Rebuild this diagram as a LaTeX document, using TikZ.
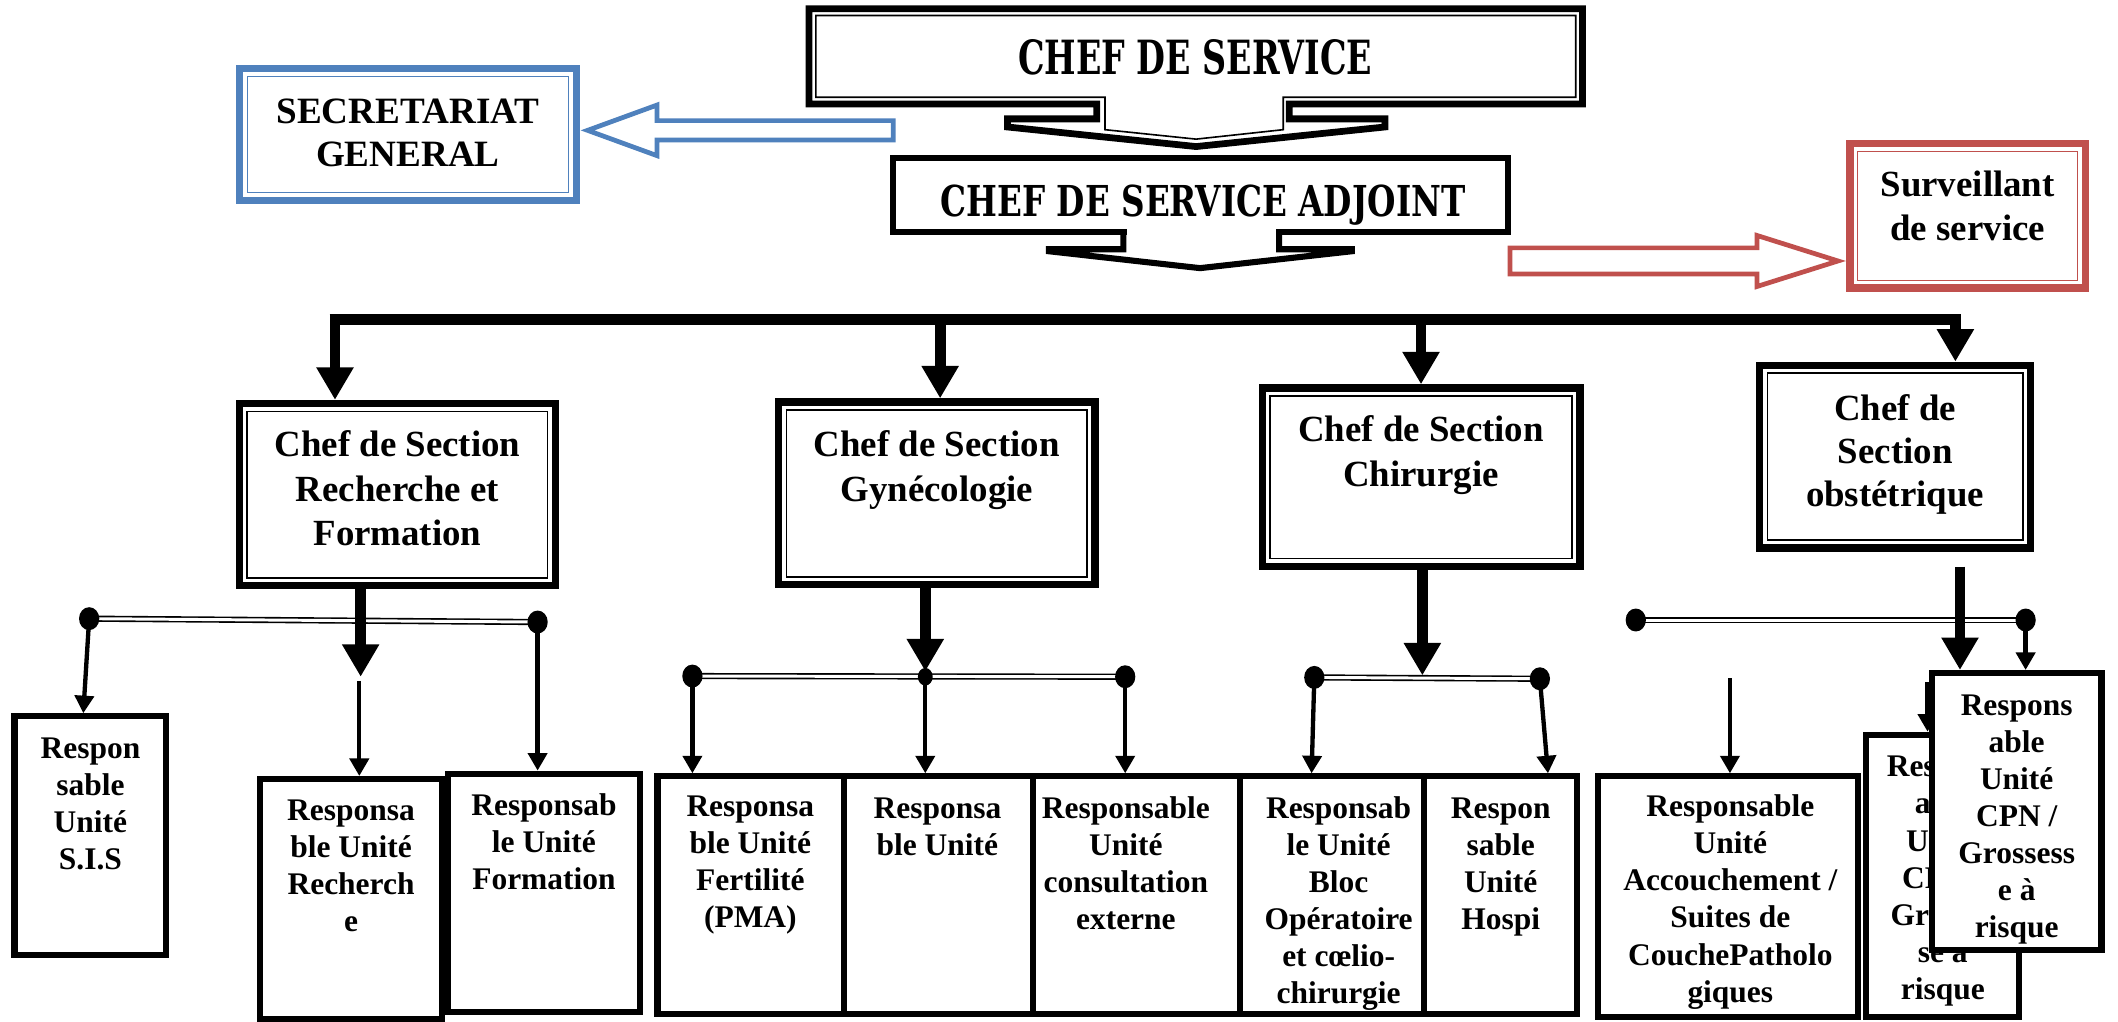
\documentclass[tikz,border=0pt]{standalone}
\usepackage{fontspec}
\setmainfont{Liberation Serif}
\newfontfamily\headfont{DejaVu Serif}
\usepackage{graphicx}
\usetikzlibrary{arrows.meta,shapes.geometric}
\definecolor{sgblue}{HTML}{4F81BD}
\definecolor{svred}{HTML}{C0504D}
\begin{document}
\begin{tikzpicture}[x=1pt,y=-1pt,line join=miter,
  secbox/.style={draw, line width=5.5pt, inner sep=0pt, fill=white},
  unitbox/.style={draw, line width=4.5pt, inner sep=0pt, fill=white},
  bgtxt/.style={font=\fontsize{27.3}{33}\selectfont\bfseries, align=center, inner sep=0pt, anchor=north},
  smtxt/.style={font=\fontsize{23.3}{27.4}\selectfont\bfseries, align=center, inner sep=0pt, anchor=north},
  headtxt/.style={inner sep=0pt, anchor=base},
  bdot/.style={ellipse, fill=black, inner sep=0pt, minimum width=15pt, minimum height=17pt},
  sdot/.style={ellipse, fill=black, inner sep=0pt, minimum width=11pt, minimum height=13pt},
  dbus/.style={draw, line width=1.2pt, double, double distance=2.2pt},
  thickarr/.style={line width=8pt, -{Triangle[width=26pt,length=24pt]}},
  thinarr/.style={line width=3.2pt, -{Triangle[width=14pt,length=13pt]}},
  blockblue/.style={draw=sgblue, line width=3.5pt, fill=white},
  blockred/.style={draw=svred, line width=3.5pt, fill=white},
]
\fill[white] (0,0) rectangle (1568,756);
\useasboundingbox (0,0) rectangle (1568,756);

% ---------- CHEF DE SERVICE (box + block arrow) ----------
\draw[line width=5pt, fill=white] (599,6.5) -- (1171.5,6.5) -- (1171.5,77) -- (954.4,77) -- (954.4,88) -- (1025.3,88) -- (1025.3,94) -- (885.5,108.5) -- (745.8,94) -- (745.8,88) -- (812,88) -- (812,77) -- (599,77) -- cycle;
\draw[line width=1.2pt] (885.5,103) -- (818,96) -- (818,72) -- (604,72) -- (604,11.5) -- (1166.5,11.5) -- (1166.5,72) -- (950,72) -- (950,96) -- cycle;
\node[headtxt] (chef) at (884.7,55.5) {\resizebox{262pt}{25.9pt}{\headfont\bfseries CHEF DE SERVICE}};

% ---------- CHEF DE SERVICE ADJOINT ----------
\node[draw, line width=4.5pt, inner sep=0pt, minimum width=455.5pt, minimum height=54.8pt] (adjbox) at (888.7,144.35) {};
\fill[white] (834,168.5) rectangle (944.7,175);
\draw[line width=4.5pt] (831.7,171.75) -- (831.7,184.5) -- (776.6,184.5) -- (776.6,186) -- (888.4,198.5) -- (1000.7,186) -- (1000.7,184.5) -- (947,184.5) -- (947,171.75);
\node[headtxt] (adj) at (890.7,160.4) {\resizebox{388.6pt}{23.4pt}{\headfont\bfseries CHEF DE SERVICE ADJOINT}};

% ---------- SECRETARIAT GENERAL ----------
\node[draw=sgblue, line width=5.5pt, inner sep=0pt, fill=white, minimum width=249.4pt, minimum height=97.4pt] (sg) at (302.05,99.55) {};
\draw[sgblue, line width=1.1pt] ([xshift=8.5pt,yshift=-8.5pt]sg.north west) rectangle ([xshift=-8.5pt,yshift=8.5pt]sg.south east);
\node[bgtxt, font=\fontsize{27.5}{31.6}\selectfont\bfseries] (sgt) at (302,70.3) {\rule{0pt}{21pt}SECRETARIAT\\GENERAL};
\draw[blockblue] (661.2,89.3) -- (486.3,89.3) -- (486.3,77.8) -- (435,96.5) -- (486.3,115.2) -- (486.3,103.7) -- (661.2,103.7) -- cycle;

% ---------- Surveillant de service ----------
\node[draw=svred, line width=5.5pt, inner sep=0pt, fill=white, minimum width=174.3pt, minimum height=106.9pt] (sv) at (1456.6,159.8) {};
\draw[svred, line width=1.1pt] ([xshift=8.5pt,yshift=-8.5pt]sv.north west) rectangle ([xshift=-8.5pt,yshift=8.5pt]sv.south east);
\node[bgtxt, font=\fontsize{27.3}{32}\selectfont\bfseries] (svt) at (1456.7,124.6) {\rule{0pt}{21pt}Surveillant\\de service};
\draw[blockred] (1117.8,183.5) -- (1300.7,183.5) -- (1300.7,174.3) -- (1360.7,193.2) -- (1300.7,212.1) -- (1300.7,202.9) -- (1117.8,202.9) -- cycle;

% ---------- Section chiefs ----------
\node[secbox, minimum width=234pt, minimum height=134.8pt] (s1) at (294.25,366.15) {};
\node[secbox, minimum width=234.1pt, minimum height=135.2pt] (s2) at (693.5,365.25) {};
\node[secbox, minimum width=235.1pt, minimum height=132pt] (s3) at (1052,353.25) {};
\node[secbox, minimum width=200.5pt, minimum height=135.2pt] (s4) at (1403,338.05) {};
\foreach \n in {s1,s2,s3,s4}{
  \draw[line width=1.1pt] ([xshift=8.5pt,yshift=-8.5pt]\n.north west) rectangle ([xshift=-8.5pt,yshift=8.5pt]\n.south east);
}
\node[bgtxt] (s1t) at (294.25,317) {\rule{0pt}{21pt}Chef de Section\\Recherche et\\Formation};
\node[bgtxt] (s2t) at (693.5,317) {\rule{0pt}{21pt}Chef de Section\\Gynécologie};
\node[bgtxt] (s3t) at (1052,306) {\rule{0pt}{21pt}Chef de Section\\Chirurgie};
\node[bgtxt, font=\fontsize{27.3}{32}\selectfont\bfseries] (s4t) at (1403,290) {\rule{0pt}{21pt}Chef de\\Section\\obstétrique};

% ---------- main bus ----------
\coordinate (b1) at (248,236.3);
\coordinate (b2) at (696,236.3);
\coordinate (b3) at (1052,236.3);
\coordinate (b4) at (1447.6,236.3);
\draw[line width=8pt] ([xshift=-4pt]b1) -- ([xshift=4pt]b4);
\draw[thickarr] (b1) -- (b1 |- s1.north);
\draw[thickarr] (b2) -- (b2 |- s2.north);
\draw[thickarr] (b3) -- (b3 |- s3.north);
\draw[thickarr] (b4) -- (b4 |- s4.north);

% ---------- unit boxes ----------
\node[unitbox, minimum width=112.4pt, minimum height=176.9pt] (sis) at (66.95,618.7) {};
\node[unitbox, minimum width=134.5pt, minimum height=178pt] (rech) at (259.9,665.75) {};
\node[unitbox, minimum width=142.1pt, minimum height=176.3pt] (form) at (402.7,660.9) {};
\node[unitbox, minimum width=138.25pt, minimum height=175.6pt] (fert) at (555.9,662.55) {};
\node[unitbox, minimum width=139.5pt, minimum height=175.6pt] (ble) at (694.75,662.55) {};
\node[unitbox, minimum width=153.7pt, minimum height=175.6pt] (cons) at (841.35,662.55) {};
\node[unitbox, minimum width=135.8pt, minimum height=175.6pt] (bloc) at (986.1,662.55) {};
\node[unitbox, minimum width=113.75pt, minimum height=175.6pt] (hosp) at (1110.9,662.55) {};
\node[unitbox, minimum width=192.5pt, minimum height=178pt] (acc) at (1279.5,663.75) {};
\node[unitbox, minimum width=113pt, minimum height=208.8pt] (res) at (1438.25,648.35) {};

\node[smtxt] (tsis) at (66.95,543.4) {\rule{0pt}{18pt}Respon\\sable\\Unité\\S.I.S};
\node[smtxt] (trech) at (259.9,589) {\rule{0pt}{18pt}Responsa\\ble Unité\\Recherch\\e};
\node[smtxt] (tform) at (402.7,585.4) {\rule{0pt}{18pt}Responsab\\le Unité\\Formation};
\node[smtxt] (tfert) at (555.5,586.6) {\rule{0pt}{18pt}Responsa\\ble Unité\\Fertilité\\(PMA)};
\node[smtxt] (tble) at (694,587.8) {\rule{0pt}{18pt}Responsa\\ble Unité};
\node[smtxt] (tcons) at (833.5,587.8) {\rule{0pt}{18pt}Responsable\\Unité\\consultation\\externe};
\node[smtxt] (tbloc) at (991,587.8) {\rule{0pt}{18pt}Responsab\\le Unité\\Bloc\\Opératoire\\et cœlio-\\chirurgie};
\node[smtxt] (thosp) at (1111,587.8) {\rule{0pt}{18pt}Respon\\sable\\Unité\\Hospi};
\node[smtxt] (tacc) at (1281,586.6) {\rule{0pt}{18pt}Responsable\\Unité\\Accouchement /\\Suites de\\CouchePatholo\\giques};
\node[smtxt] (tres) at (1438.25,557) {\rule{0pt}{18pt}Respons\\able\\Unité\\CPN /\\Grosses\\se à\\risque};

% ---------- group 1 ----------
\coordinate (c1) at (66,458);
\coordinate (c2) at (398,460.5);
\coordinate (t1) at (267,501);
\coordinate (r1) at (266,504);
\draw[dbus] (c1) -- (c2);
\draw[thinarr] (c1) -- ([xshift=-5.3pt]sis.north);
\draw[thinarr] (c2) -- (c2 |- form.north);
\draw[thinarr] (r1) -- (r1 |- rech.north);
\draw[thickarr] (t1 |- s1.south) -- (t1);
\node[bdot] (d1) at (c1) {};
\node[bdot] (d2) at (c2) {};

% ---------- group 2 ----------
\coordinate (c3) at (512.6,500.5);
\coordinate (cm) at (685,501);
\coordinate (c4) at (833,501);
\coordinate (t2) at (685,497);
\draw[dbus] (c3) -- (c4);
\draw[thinarr] (c3) -- (c3 |- fert.north);
\draw[thinarr] (cm) -- (cm |- ble.north);
\draw[thinarr] (c4) -- (c4 |- cons.north);
\draw[thickarr] (t2 |- s2.south) -- (t2);
\node[bdot] (d3) at (c3) {};
\node[sdot] (dm) at (cm) {};
\node[bdot] (d4) at (c4) {};

% ---------- group 3 ----------
\coordinate (c5) at (973,501.5);
\coordinate (c6) at (1140,502.5);
\coordinate (t3) at (1053,500);
\draw[dbus] (c5) -- (c6);
\draw[thinarr] (c5) -- ([xshift=-15.1pt]bloc.north);
\draw[thinarr] (c6) -- ([xshift=35.1pt]hosp.north);
\draw[thickarr] (t3 |- s3.south) -- (t3);
\node[bdot] (d5) at (c5) {};
\node[bdot] (d6) at (c6) {};

% ---------- group 4 ----------
\coordinate (c7) at (1211,459);
\coordinate (c8) at (1499.6,459);
\coordinate (a4) at (1280.7,502);
\coordinate (h1) at (1427,505);
\coordinate (t4) at (1451,419.5);
\draw[dbus] (c7) -- (c8);
\draw[thinarr] (a4) -- (a4 |- acc.north);
\draw[thinarr] (h1) -- (h1 |- res.north);
\node[unitbox, minimum width=125.5pt, minimum height=205.1pt] (cpn) at (1493,600.8) {};
\node[smtxt] (tcpn) at (1493,511.3) {\rule{0pt}{18pt}Respons\\able\\Unité\\CPN /\\Grossess\\e à\\risque};
\draw[thinarr] (c8) -- (c8 |- cpn.north);
\draw[thickarr] (t4) -- (t4 |- cpn.north);
\node[bdot] (d7) at (c7) {};
\node[bdot] (d8) at (c8) {};
\end{tikzpicture}
\end{document}
